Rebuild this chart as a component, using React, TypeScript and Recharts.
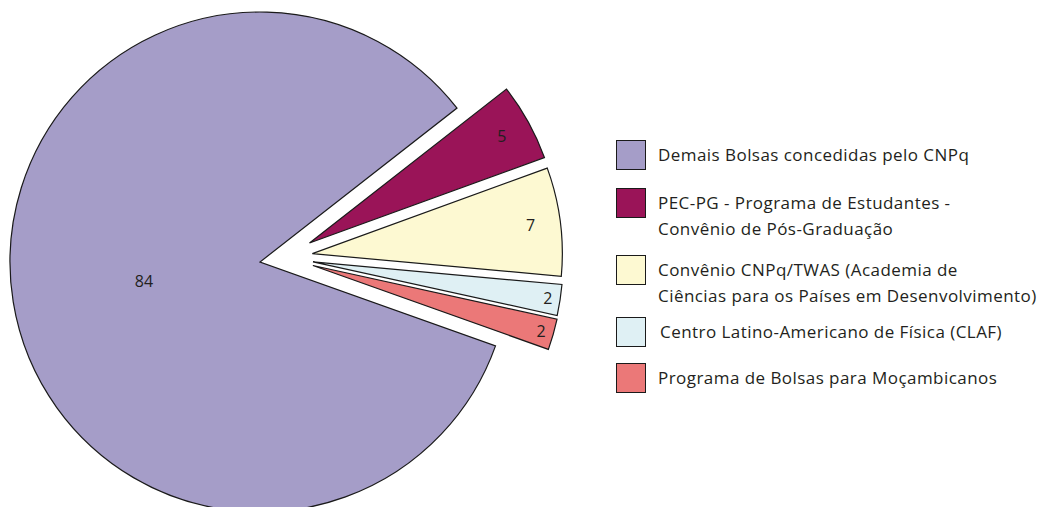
import React from 'react';
import { PieChart, Pie, Cell, Sector } from 'recharts';

const CATEGORIES = [
  'Demais Bolsas concedidas pelo CNPq',
  'PEC-PG - Programa de Estudantes - Convênio de Pós-Graduação',
  'Convênio CNPq/TWAS (Academia de Ciências para os Países em Desenvolvimento)',
  'Centro Latino-Americano de Física (CLAF)',
  'Programa de Bolsas para Moçambicanos',
];
const LEGEND_LINES = [
  ['Demais Bolsas concedidas pelo CNPq'],
  ['PEC-PG - Programa de Estudantes -', 'Convênio de Pós-Graduação'],
  ['Convênio CNPq/TWAS (Academia de', 'Ciências para os Países em Desenvolvimento)'],
  ['Centro Latino-Americano de Física (CLAF)'],
  ['Programa de Bolsas para Moçambicanos'],
];
const VALUES = [84, 5, 7, 2, 2];
const COLORS = ['#A59DC8', '#9A1458', '#FDF9D2', '#DFF0F4', '#EB7878'];

const data = CATEGORIES.map((name, i) => ({ name, value: VALUES[i] }));

// layout constants
const LEGEND_TOPS = [140, 188, 255, 317, 363];
const LEGEND_TEXT_DX = [0, 0, 0, 2, 0];
const EXPLODE = 53;
const RAD = Math.PI / 180;
const FONT = "'Open Sans', 'Noto Sans', sans-serif";

function explodeOffset(midAngle: number, big: boolean) {
  if (big) return { dx: 0, dy: 0 };
  let m = midAngle;
  while (m > 180) m -= 360;
  while (m < -180) m += 360;
  const a = (m * 0.55 + 5) * RAD;
  return { dx: EXPLODE * Math.cos(a), dy: -EXPLODE * Math.sin(a) };
}

const renderSector = (props: any) => {
  const { cx, cy, midAngle, percent } = props;
  const o = explodeOffset(midAngle, percent > 0.5);
  return <Sector {...props} cx={cx + o.dx} cy={cy + o.dy} />;
};

const renderLabel = (p: any) => {
  const { cx, cy, midAngle, outerRadius, percent, value } = p;
  const big = percent > 0.5;
  const o = explodeOffset(midAngle, big);
  const r = big ? outerRadius * 0.47 : outerRadius * (percent < 0.03 ? 0.95 : 0.88);
  const x = cx + o.dx + r * Math.cos(-midAngle * RAD);
  const y = cy + o.dy + r * Math.sin(-midAngle * RAD);
  return (
    <text x={x} y={y} textAnchor="middle" dominantBaseline="central" fill="#231F20" fontSize={16} fontFamily={FONT}>
      {value}
    </text>
  );
};

export default function App() {
  return (
    <div style={{ position: 'absolute', left: 0, top: 0, width: 1044, height: 507, background: '#fff', overflow: 'hidden' }}>
      <PieChart width={1044} height={507} margin={{ top: 0, right: 0, bottom: 0, left: 0 }}>
        <Pie
          data={data}
          dataKey="value"
          nameKey="name"
          cx={260}
          cy={262}
          outerRadius={250}
          startAngle={340.4}
          endAngle={-19.6}
          stroke="#1a1a1a"
          strokeWidth={1.2}
          label={renderLabel}
          labelLine={false}
          shape={renderSector}
          isAnimationActive={false}
        >
          {data.map((d, i) => (
            <Cell key={d.name} fill={COLORS[i]} />
          ))}
        </Pie>
      </PieChart>
      {LEGEND_LINES.map((lines, i) => (
        <div key={i} style={{ position: 'absolute', left: 616, top: LEGEND_TOPS[i], display: 'flex', alignItems: 'flex-start' }}>
          <div style={{ width: 28, height: 28, background: COLORS[i], border: '1px solid #1a1a1a', flexShrink: 0 }} />
          <div style={{ marginLeft: 12 + LEGEND_TEXT_DX[i], marginTop: 2, fontFamily: FONT, fontSize: 17, letterSpacing: '0.45px', lineHeight: '26px', color: '#231F20', whiteSpace: 'nowrap' }}>
            {lines.map((l, j) => (
              <div key={j}>{l}</div>
            ))}
          </div>
        </div>
      ))}
    </div>
  );
}
